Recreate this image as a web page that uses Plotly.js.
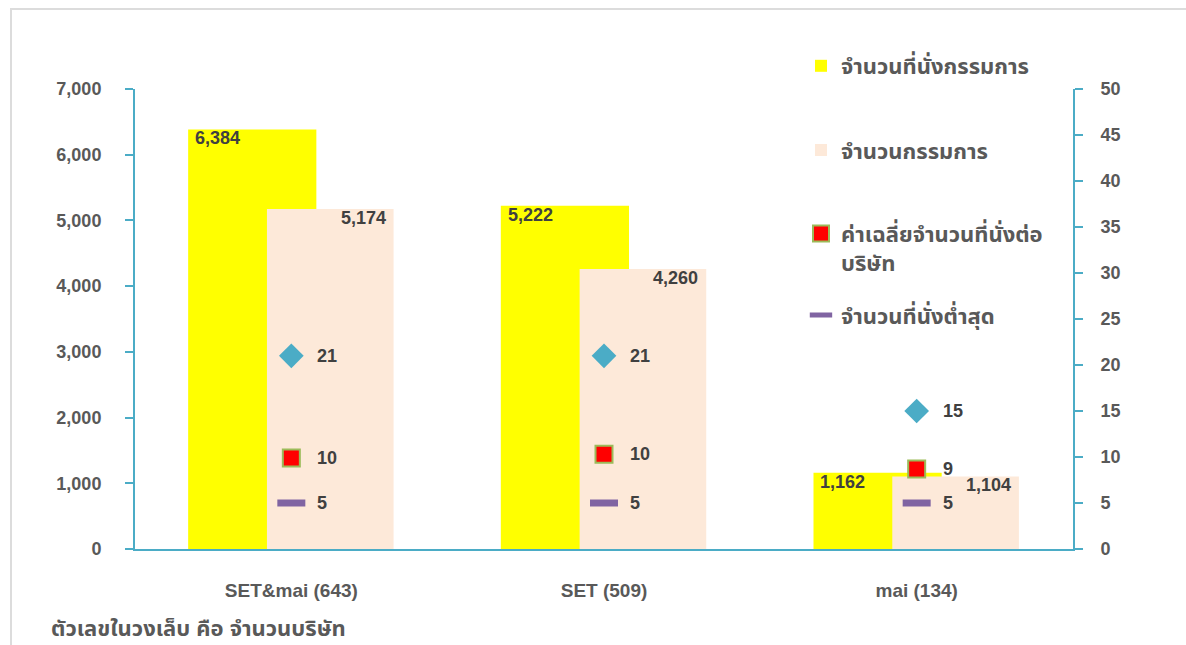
<!DOCTYPE html>
<html>
<head>
<meta charset="utf-8">
<script src="https://cdn.plot.ly/plotly-3.0.1.min.js"></script>
<style>
    body { margin: 0; background: #ffffff; }
    #frame {
        position: absolute; left: 10px; top: 8px; width: 1200px; height: 700px;
        border-top: 2px solid #dcdcdc; border-left: 2px solid #dcdcdc;
    }
    #grafico { position: absolute; left: 0; top: 0; width: 1186px; height: 645px; }
</style>
</head>
<body>
<div id="frame"></div>
<div id="grafico"></div>
<script>
// Datos
const categorias = ["SET&mai (643)", "SET (509)", "mai (134)"];
const asientos = [6384, 5222, 1162];        // จำนวนที่นั่งกรรมการ
const directores = [5174, 4260, 1104];      // จำนวนกรรมการ
const promedio = [9.9, 10.3, 8.7];          // ค่าเฉลี่ยจำนวนที่นั่งต่อบริษัท
const maximo = [21, 21, 15];                // diamantes (sin leyenda)
const minimo = [5, 5, 5];                   // จำนวนที่นั่งต่ำสุด
const nota = "ตัวเลขในวงเล็บ คือ จำนวนบริษัท";

const fuente = "'Liberation Sans', Arial, 'Noto Sans Thai', Tahoma, sans-serif";
const gris = "#595959";
const oscuro = "#404040";
const azul = "#4bacc6";

const barAmarilla = {
    x: categorias, y: asientos, type: 'bar', name: 'จำนวนที่นั่งกรรมการ',
    offset: -0.33, width: 0.41,
    marker: { color: '#ffff00' },
    legend: 'legend', hoverinfo: 'y'
};

const barDurazno = {
    x: categorias, y: directores, type: 'bar', name: 'จำนวนกรรมการ',
    offset: -0.078, width: 0.405,
    marker: { color: '#fde9d9' },
    legend: 'legend2', hoverinfo: 'y'
};

const diamantes = {
    x: categorias, y: maximo, yaxis: 'y2', type: 'scatter', mode: 'markers',
    marker: { symbol: 'diamond', size: 19, color: azul },
    showlegend: false, hoverinfo: 'y'
};

const cuadros = {
    x: categorias, y: promedio, yaxis: 'y2', type: 'scatter', mode: 'markers',
    name: 'ค่าเฉลี่ยจำนวนที่นั่งต่อ<br>บริษัท',
    marker: { symbol: 'square', size: 17, color: '#ff0000', line: { color: '#9bbb59', width: 2 } },
    legend: 'legend3', hoverinfo: 'y'
};

const lineas = {
    x: categorias, y: minimo, yaxis: 'y2', type: 'scatter', mode: 'markers',
    name: 'จำนวนที่นั่งต่ำสุด',
    marker: { symbol: 'line-ew', size: 20, color: '#8064a2', line: { color: '#8064a2', width: 7 } },
    legend: 'legend4', hoverinfo: 'y'
};

// Etiquetas
const anotaciones = [];
const fmt = v => v.toLocaleString('en-US');
categorias.forEach((c, i) => {
    anotaciones.push({
        x: i - 0.33, y: asientos[i], xref: 'x', yref: 'y', text: fmt(asientos[i]),
        xanchor: 'left', yanchor: 'top', xshift: 5, yshift: 3, showarrow: false,
        font: { family: fuente, size: 18, color: oscuro, weight: 'bold' }
    });
    anotaciones.push({
        x: i - 0.078 + 0.405, y: directores[i], xref: 'x', yref: 'y', text: fmt(directores[i]),
        xanchor: 'right', yanchor: 'top', xshift: -6, yshift: 3, showarrow: false,
        font: { family: fuente, size: 18, color: oscuro, weight: 'bold' }
    });
    [maximo, promedio, minimo].forEach(serie => {
        anotaciones.push({
            x: i, y: serie[i], xref: 'x', yref: 'y2', text: serie[i].toFixed(0),
            xanchor: 'left', yanchor: 'middle', xshift: 24, showarrow: false,
            font: { family: fuente, size: 18, color: oscuro, weight: 'bold' }
        });
    });
});
anotaciones.push({
    x: -0.092, y: -0.173, xref: 'paper', yref: 'paper', text: nota,
    xanchor: 'left', yanchor: 'middle', showarrow: false,
    font: { family: fuente, size: 22, color: gris, weight: 'bold' }
});

const leyendaBase = {
    xanchor: 'left', yanchor: 'middle', x: 0.71, valign: 'top',
    bgcolor: 'rgba(0,0,0,0)',
    font: { family: fuente, size: 22, color: gris, weight: 'bold' }
};

const layout = {
    width: 1186, height: 645,
    margin: { l: 135, r: 113, t: 89, b: 96 },
    paper_bgcolor: 'rgba(0,0,0,0)',
    plot_bgcolor: 'rgba(0,0,0,0)',
    barmode: 'overlay',
    font: { family: fuente, color: gris },
    xaxis: {
        type: 'category', range: [-0.5, 2.5],
        showline: true, linecolor: azul, linewidth: 2,
        ticks: '', ticklabelstandoff: 23,
        tickfont: { family: fuente, size: 19, color: gris, weight: 'bold' },
        showgrid: false, zeroline: false
    },
    yaxis: {
        range: [0, 7000], dtick: 1000, tickformat: ',d',
        showline: true, linecolor: azul, linewidth: 2,
        ticks: 'outside', ticklen: 8, tickwidth: 2, tickcolor: azul,
        ticklabelstandoff: 20,
        tickfont: { family: fuente, size: 18, color: gris, weight: 'bold' },
        showgrid: false, zeroline: false
    },
    yaxis2: {
        overlaying: 'y', side: 'right',
        range: [0, 50], dtick: 5,
        showline: true, linecolor: azul, linewidth: 2,
        ticks: 'outside', ticklen: 8, tickwidth: 2, tickcolor: azul,
        ticklabelstandoff: 14,
        tickfont: { family: fuente, size: 18, color: gris, weight: 'bold' },
        showgrid: false, zeroline: false
    },
    legend: Object.assign({}, leyendaBase, { y: 1.05 }),
    legend2: Object.assign({}, leyendaBase, { y: 0.867 }),
    legend3: Object.assign({}, leyendaBase, { y: 0.654 }),
    legend4: Object.assign({}, leyendaBase, { y: 0.508 }),
    annotations: anotaciones,
    showlegend: true
};

Plotly.newPlot('grafico', [barAmarilla, barDurazno, diamantes, cuadros, lineas], layout, { displayModeBar: false });
</script>
</body>
</html>
